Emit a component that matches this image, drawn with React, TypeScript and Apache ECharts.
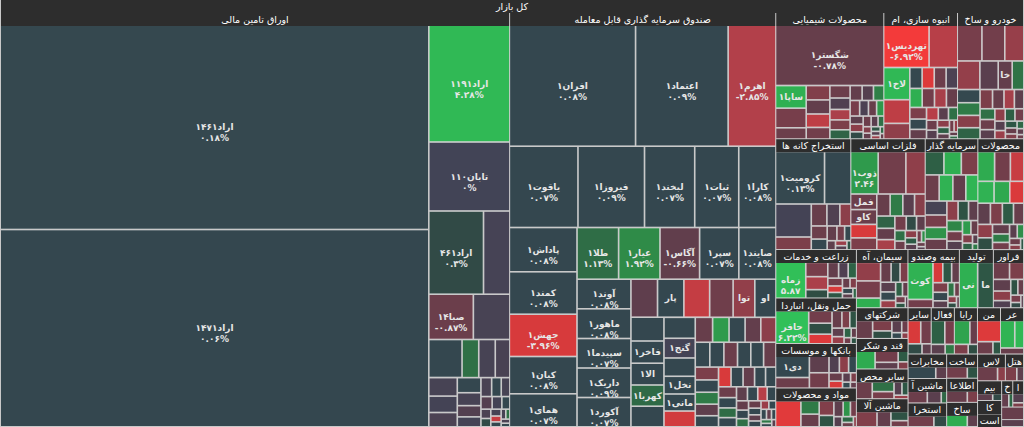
import React, { useEffect, useRef } from 'react';
import * as echarts from 'echarts';

type Leaf = [string, number, number];

const MARKET = 'کل بازار';

const BONDS: Leaf[] = [
  ['اراد۱۴۶۱', 86100, 0.18], ['اراد۱۴۷۱', 83100, 0.06], ['اراد۱۱۹۱', 9315, 4.28], ['تابان۱۱۰', 5508, 0],
  ['اراد۴۶۱', 4482, 0.3], ['', 2158, -0.08], ['صبا۱۴۰۴۱', 1980, -0.87], ['', 1620, -0.12], ['', 1248, 0.05],
  ['', 624, 1.2], ['', 622, -0.1], ['', 546, -0.15], ['', 520, -0.1], ['', 460, -0.05], ['', 400, -0.2],
  ['', 350, 0.04], ['', 300, -0.1], ['', 260, -0.35], ['', 230, -0.05], ['', 200, -0.15], ['', 180, 0.06],
  ['', 160, -0.1], ['', 140, -0.4], ['', 120, -0.05], ['', 100, 0.05], ['', 90, -0.2], ['', 80, 0.3],
  ['', 70, -0.1], ['', 60, -3.5], ['', 50, 0.05], ['', 45, -0.1], ['', 40, 1.2], ['', 35, -0.2], ['', 30, 0.04],
];

const ETF: Leaf[] = [
  ['افران۱', 14880, 0.08], ['اعتماد۱', 10920, 0.09], ['اهرم۱', 5640, -2.85], ['یاقوت۱', 5427, 0.07],
  ['فیروزا۱', 5265, 0.09], ['لبخند۱', 3969, 0.07], ['ثبات۱', 3483, 0.07], ['کارا۱', 2950, 0.08],
  ['پاداش۱', 2920, 0.08], ['کمند۱', 2790, 0.08], ['جهش۱', 2785, -3.96], ['کیان۱', 2450, 0.08],
  ['همای۱', 2180, 0.07], ['طلا۱', 2090, 1.13], ['عیار۱', 2080, 1.92], ['آگاس۱', 1990, -0.66],
  ['سپر۱', 1970, 0.07], ['صایند۱', 1870, 0.08], ['آوند۱', 1560, 0.08], ['ماهور۱', 1555, 0.08],
  ['سپیدما۱', 1550, 0.07], ['داریک۱', 1545, 0.09], ['آکورد۱', 1540, 0.07],
  ['', 990, -0.62], ['پارند۱', 980, 0.08], ['', 960, -3.4], ['', 875, -0.95], ['توان۱', 805, -1.7],
  ['اوصتا۱', 790, 0.07], ['', 760, 0.08], ['فاخر۱', 720, 0.07], ['الا۱', 700, 0.08], ['کهربا۱', 680, 1.05],
  ['', 660, 0.08], ['', 640, 0.07], ['گنج۱', 600, -0.05], ['', 560, 0.07], ['نخل۱', 540, 0.08], ['مانی۱', 520, 0.07],
  ['', 480, -3.8],
  ['', 420, -0.8], ['', 400, 2.5], ['', 390, 0.08], ['', 380, -0.7], ['', 370, -1.5], ['', 350, 0.07],
  ['', 340, 0.08], ['', 330, -0.9], ['', 320, 0.07], ['', 310, 0.08], ['', 300, -0.8], ['', 290, -1.2],
  ['', 280, 0.07], ['', 270, 1.5], ['', 260, -0.6], ['', 250, 0.08], ['', 240, -4.0], ['', 230, 0.07],
  ['', 220, -0.7], ['', 210, 0.08], ['', 200, 0.07], ['', 190, -0.9], ['', 180, 0.07], ['', 170, 1.1],
  ['', 160, 0.08], ['', 150, -0.6], ['', 140, 0.07], ['', 130, -3.0], ['', 120, 0.08], ['', 110, -0.7],
  ['', 100, 0.07], ['', 95, 1.2], ['', 90, -0.8], ['', 80, 0.08], ['', 75, -0.6],
  ['', 70, 0.07], ['', 65, -2.0], ['', 60, 0.08], ['', 55, 0.07], ['', 50, -0.7], ['', 45, 0.07],
  ['', 40, 1.4], ['', 35, 0.08], ['', 30, -0.5],
];

const CHEM: Leaf[] = [
  ['شگستر۱', 6200, -0.78], ['ساپا۱', 660, 3.6], ['', 570, -1.1], ['', 330, -0.9], ['', 320, -1.3],
  ['', 315, -0.7], ['', 300, -3.2], ['', 260, -1.0], ['', 240, -0.9], ['', 220, -0.3], ['', 200, -2.6],
  ['', 190, -1.2], ['', 180, 0.9], ['', 170, -0.7], ['', 160, -0.4], ['', 150, 1.6], ['', 140, -1.1],
  ['', 130, -0.2], ['', 120, -0.8], ['', 110, 2.4], ['', 100, -0.6], ['', 95, -1.5], ['', 90, 0.3],
  ['', 80, -0.9], ['', 70, -0.5], ['', 60, 1.2], ['', 50, -1.3], ['', 45, -0.7], ['', 40, 0.6],
  ['', 35, -0.4], ['', 30, -2.0], ['', 25, 1.0], ['', 20, -0.8],
];

const BUILD: Leaf[] = [
  ['تهردیس۱', 1780, -6.92], ['', 1120, -3.0], ['لاخ۱', 780, 4.2], ['', 575, -3.2], ['', 380, -1.6],
  ['', 240, 0.1], ['', 235, -4.5], ['', 230, -0.9], ['', 225, -0.2], ['', 220, 3.5], ['', 215, -1.0],
  ['', 210, -2.5], ['', 200, -0.8], ['', 180, -1.2], ['', 160, 0.1], ['', 150, -0.7], ['', 140, -3.0],
  ['', 120, -0.5], ['', 110, 1.2], ['', 100, -0.9], ['', 90, -0.4], ['', 80, -1.5], ['', 70, 0.8],
  ['', 60, -0.6], ['', 50, -1.0], ['', 40, -2.0], ['', 30, -0.7], ['', 25, 1.0],
];

const AUTO: Leaf[] = [
  ['', 880, -1.1], ['', 816, -1.0], ['', 680, -1.9], ['', 646, -1.8], ['', 528, -0.5], ['خاور۱', 400, -0.7],
  ['', 330, 1.3], ['', 300, 0.1], ['', 290, 1.5], ['', 280, -1.4], ['', 260, 0.9], ['', 240, -1.2],
  ['', 220, -0.8], ['', 200, -2.4], ['', 180, -0.6], ['', 160, 1.2], ['', 150, -0.9], ['', 140, -0.5],
  ['', 130, -1.6], ['', 120, 0.8], ['', 110, -1.0], ['', 100, -0.4], ['', 90, -2.0], ['', 80, 0.6],
  ['', 70, -0.8], ['', 60, -1.3], ['', 50, 1.0], ['', 40, -0.6], ['', 30, -0.9],
];

const MINING: Leaf[] = [
  ['کرومیت۱', 2700, 0.13], ['', 1460, 0.08], ['', 1250, -0.05], ['', 480, -1.2], ['', 360, -0.8],
  ['', 300, -0.3], ['', 260, -1.5], ['', 220, -0.9], ['', 180, 0.05], ['', 150, -0.7], ['', 120, -1.0],
  ['', 100, 0.1], ['', 80, -0.6], ['', 60, -2.0], ['', 50, -0.4], ['', 40, 0.5],
];

const METALS: Leaf[] = [
  ['ذوب۱', 1270, 2.46], ['', 1265, -1.0], ['', 900, -1.6], ['فملی۱', 440, -0.9], ['کاوه۱', 420, -0.85],
  ['', 380, -4.0], ['', 340, -1.2], ['', 320, -0.8], ['', 300, 1.5], ['', 280, -0.5], ['', 260, -1.4],
  ['', 240, 0.9], ['', 220, -0.7], ['', 200, -2.5], ['', 180, -1.0], ['', 160, 0.3], ['', 140, -0.6],
  ['', 120, 1.2], ['', 100, -0.9], ['', 90, -1.5], ['', 80, 0.7], ['', 70, -0.5], ['', 60, -1.0],
  ['', 50, 2.0], ['', 40, -0.8], ['', 30, -0.4],
];

const INVEST: Leaf[] = [
  ['', 520, 0.8], ['', 480, 3.5], ['', 460, -1.2], ['', 440, -0.9], ['', 420, 3.8], ['', 400, -0.7],
  ['', 380, 4.0], ['', 360, -0.1], ['', 320, -1.1], ['', 300, 2.2], ['', 280, -0.8], ['', 260, -1.5],
  ['', 240, 0.5], ['', 220, -0.6], ['', 200, 1.8], ['', 180, -1.0], ['', 160, -0.4], ['', 140, 2.5],
  ['', 120, -0.8], ['', 100, -1.3], ['', 80, 0.9], ['', 60, -0.5], ['', 40, 1.5],
];

const PRODUCTS: Leaf[] = [
  ['', 560, 3.2], ['', 520, -1.0], ['', 440, -3.5], ['', 400, 3.8], ['', 380, 3.0], ['', 340, -4.2],
  ['', 300, -0.6], ['', 280, -1.2], ['', 260, 0.7], ['', 240, -0.8], ['', 220, -1.6], ['', 200, 0.4],
  ['', 180, -0.7], ['', 160, 1.5], ['', 140, -1.0], ['', 120, -0.5], ['', 100, 2.0], ['', 80, -0.9],
  ['', 60, -1.4], ['', 40, 0.6],
];

const FARMING: Leaf[] = [
  ['زماهان۱', 1140, 5.87], ['', 330, -1.1], ['', 300, -2.6], ['', 200, 0.4], ['', 180, -0.7], ['', 160, -0.3],
  ['', 140, 0.9], ['', 120, -1.0], ['', 100, -4.0], ['', 90, 0.6], ['', 80, -0.8], ['', 70, -1.3],
  ['', 60, 0.2], ['', 50, -0.6], ['', 40, 1.0],
];

const TRANSPORT: Leaf[] = [
  ['حافرین۱', 1280, 6.22], ['', 340, -1.0], ['', 300, 0.4], ['', 260, -4.5], ['', 200, -0.8], ['', 160, -1.2],
  ['', 140, 0.5], ['', 120, -0.6], ['', 100, -2.0], ['', 80, 0.9], ['', 60, -0.7], ['', 50, -1.0], ['', 40, 0.5],
];

const BANKS: Leaf[] = [
  ['دی۱', 760, 0.08], ['', 380, -0.9], ['', 340, -0.6], ['', 320, -1.0], ['', 180, -0.3], ['', 160, -1.5],
  ['', 140, 0.07], ['', 120, -0.8], ['', 100, -4.0], ['', 80, -0.5], ['', 60, -1.2], ['', 50, 0.1], ['', 40, -0.7],
];

const MATERIALS: Leaf[] = [
  ['', 800, -5.0], ['', 300, 1.5], ['', 280, -0.8], ['', 260, -1.3], ['', 200, 0.5], ['', 180, -0.6],
  ['', 140, 2.2], ['', 120, -1.0], ['', 100, -0.4], ['', 80, 1.0], ['', 60, -0.9], ['', 40, -1.5],
];

const CEMENT: Leaf[] = [
  ['', 560, -1.7], ['', 520, -1.1], ['', 300, 3.5], ['', 260, -0.8], ['', 220, 0.3], ['', 200, -1.2],
  ['', 180, -0.5], ['', 160, 0.1], ['', 140, -2.0], ['', 120, 0.8], ['', 100, -0.7], ['', 80, -1.0],
  ['', 60, 0.6], ['', 40, -0.4],
];

const INSURANCE: Leaf[] = [
  ['کوثر۱', 1040, 3.8], ['', 240, -1.0], ['', 220, -4.0], ['', 200, 0.6], ['', 180, -0.7], ['', 160, -1.2],
  ['', 140, 0.2], ['', 120, -0.5], ['', 100, 1.3], ['', 80, -0.9], ['', 60, -1.5], ['', 50, 0.4], ['', 40, -0.6],
];

const PRODUCTION: Leaf[] = [['نیان۱', 770, 3.6], ['مادیرا۱', 665, 0.6]];
const PROCESSING: Leaf[] = [
  ['', 300, -0.9], ['', 260, -1.2], ['', 220, -0.6], ['', 180, -1.5], ['', 140, -0.3], ['', 120, 0.5],
  ['', 100, -0.8], ['', 80, -1.1], ['', 60, 0.3], ['', 40, -0.5],
];
const HOLDINGS: Leaf[] = [['', 300, -0.8], ['', 200, -1.2], ['', 150, 0.4], ['', 120, -0.5], ['', 80, -0.9], ['', 60, 0.2], ['', 40, -1.5]];
const SUGAR: Leaf[] = [['', 320, 3.2], ['', 240, -1.0], ['', 150, -0.6], ['', 100, 0.7], ['', 70, -1.3]];
const MINERALS: Leaf[] = [['', 260, -0.9], ['', 200, 1.2], ['', 150, -1.1], ['', 100, -0.4], ['', 80, 0.6], ['', 50, -2.0]];
const MACHINERY: Leaf[] = [['', 300, -1.3], ['', 200, -0.7], ['', 150, 0.5], ['', 100, -1.0]];
const OTHER: Leaf[] = [['', 300, -4.0], ['', 250, -1.0], ['', 150, 0.3], ['', 100, -0.6]];
const ACTIVE: Leaf[] = [['', 350, 0.8], ['', 250, -1.1], ['', 150, -0.5], ['', 100, 1.5]];
const COMPUTER: Leaf[] = [['', 400, 2.8], ['', 200, -0.8], ['', 150, -1.2], ['', 100, 0.4]];
const MINE2: Leaf[] = [['', 500, -4.5], ['', 200, -0.9], ['', 100, 0.6]];
const SUPPLY: Leaf[] = [['', 400, 3.9], ['', 250, 4.2], ['', 150, -0.8]];
const TELECOM: Leaf[] = [['', 500, 0.08], ['', 200, -0.6]];
const MACHINE2: Leaf[] = [['', 350, -0.9], ['', 250, -0.5], ['', 100, 1.0]];
const EXTRACT: Leaf[] = [['', 400, -1.0], ['', 200, 0.3]];
const CONSTRUCT: Leaf[] = [['', 300, -1.0], ['', 150, 0.5]];
const INFO: Leaf[] = [['', 300, -0.8], ['', 150, -1.2]];
const DEVICES: Leaf[] = [['', 300, 3.3], ['', 150, -0.6]];
const TIRES: Leaf[] = [['', 300, -0.9], ['', 120, -1.5]];
const HOTEL: Leaf[] = [['', 200, -1.2], ['', 120, -0.6]];
const INS2: Leaf[] = [['', 200, -0.6], ['', 120, 0.3]];
const KA: Leaf[] = [['', 150, -0.9], ['', 90, 0.4]];
const AST: Leaf[] = [['', 150, -1.1], ['', 80, 0.2]];
const KHAR: Leaf[] = [['', 140, -0.7], ['', 80, 1.0]];
const AMR: Leaf[] = [['', 140, -0.4], ['', 70, -1.2]];
const KHAD: Leaf[] = [['', 130, -0.8], ['', 70, 0.5]];
const MIM: Leaf[] = [['', 90, -0.5], ['', 40, 0.3]];

const SECTORS: [string, number, Leaf[]][] = [
  ['اوراق تامین مالی', 208900, BONDS],
  ['صندوق سرمایه گذاری قابل معامله', 109200, ETF],
  ['محصولات شیمیایی', 13530, CHEM],
  ['انبوه سازی، ام', 9230, BUILD],
  ['خودرو و ساخ', 8260, AUTO],
  ['استخراج کانه ها', 8240, MINING],
  ['فلزات اساسی', 8170, METALS],
  ['سرمایه گذار', 5777, INVEST],
  ['محصولات', 5014, PRODUCTS],
  ['زراعت و خدمات', 3871, FARMING],
  ['حمل ونقل، انباردا', 3634, TRANSPORT],
  ['بانکها و موسسات', 3555, BANKS],
  ['مواد و محصولات', 3081, MATERIALS],
  ['سیمان، آه', 2970, CEMENT],
  ['بیمه وصندو', 2965, INSURANCE],
  ['تولید', 1960, PRODUCTION],
  ['فراور', 1736, PROCESSING],
  ['شرکتهای', 1570, HOLDINGS],
  ['قند و شکر', 1565, SUGAR],
  ['سایر محص', 1519, MINERALS],
  ['ماشین آلا', 1421, MACHINERY],
  ['سایر', 1065, OTHER],
  ['فعال', 1062, ACTIVE],
  ['رایا', 1060, COMPUTER],
  ['من', 1058, MINE2],
  ['عرضه', 1055, SUPPLY],
  ['مخابرات', 936, TELECOM],
  ['ماشین آ', 935, MACHINE2],
  ['استخرا', 900, EXTRACT],
  ['ساخت', 741, CONSTRUCT],
  ['اطلاعا', 740, INFO],
  ['ساخت دس', 739, DEVICES],
  ['لاستیک', 738, TIRES],
  ['هتل', 480, HOTEL],
  ['بیم', 470, INS2],
  ['کا', 320, KA],
  ['است', 300, AST],
  ['خر', 290, KHAR],
  ['امر', 280, AMR],
  ['خد', 270, KHAD],
  ['م', 150, MIM],
];

const POS_STOPS: [number, string][] = [
  [0, '#34474f'], [0.2, '#35484f'], [0.35, '#2f4b42'], [0.6, '#2e5645'], [1.13, '#2f6d46'],
  [1.92, '#2f8b48'], [3, '#2fa84f'], [4.3, '#30b955'], [7, '#31c35a'],
];
const NEG_STOPS: [number, string][] = [
  [0, '#424456'], [0.4, '#553f4f'], [0.8, '#673e4b'], [1.5, '#8c3f4a'], [2.85, '#b2404a'],
  [4, '#d83a3b'], [7, '#f43a3a'],
];

function rgb(h: string) {
  return [1, 3, 5].map((i) => parseInt(h.slice(i, i + 2), 16));
}
function colorOf(p: number) {
  const stops = p > 0 ? POS_STOPS : NEG_STOPS;
  const a = Math.abs(p);
  for (let i = 1; i < stops.length; i++) {
    if (a <= stops[i][0]) {
      const [a0, c0] = stops[i - 1];
      const [a1, c1] = stops[i];
      const t = (a - a0) / (a1 - a0);
      const x = rgb(c0), y = rgb(c1);
      return 'rgb(' + x.map((v, k) => Math.round(v + (y[k] - v) * t)).join(',') + ')';
    }
  }
  return stops[stops.length - 1][1];
}

const FA = '۰۱۲۳۴۵۶۷۸۹';
const toFa = (s: string) => s.replace(/[0-9]/g, (d) => FA[+d]);
const fmtPct = (v: number) => toFa(String(Number(v.toFixed(2)))) + '%';

const FONT = 'Tahoma, "DejaVu Sans", sans-serif';
const LINE = '#c9c9c9';
const HEAD_BG = '#2d2d2d';
const TWO_LINE_MIN = 1050;

export default function App() {
  const ref = useRef<HTMLDivElement>(null);
  useEffect(() => {
    if (!ref.current) return;
    const chart = echarts.init(ref.current, undefined, { renderer: 'svg' });
    const headerLabel = {
      show: true,
      height: 13,
      color: '#ffffff',
      fontSize: 9.5,
      fontFamily: FONT,
      backgroundColor: HEAD_BG,
      padding: 0,
      position: 'inside',
      align: 'center',
      verticalAlign: 'middle',
      overflow: 'truncate',
      ellipsis: '',
    };
    const sectors = SECTORS.map(([name, size, leaves]) => ({
      name,
      value: size,
      itemStyle: { color: colorOf(leaves[0][2]) },
      children: leaves.map(([n, v, p]) => ({
        name: n,
        value: v,
        pct: p,
        two: v >= TWO_LINE_MIN,
        itemStyle: { color: colorOf(p) },
        label: { show: n !== '', offset: [0, v >= TWO_LINE_MIN ? 5.5 : 0] },
      })),
    }));
    chart.setOption({
      animation: false,
      textStyle: { fontFamily: FONT },
      series: [
        {
          type: 'treemap',
          left: 0,
          top: 0,
          right: 0,
          bottom: 0,
          roam: false,
          nodeClick: false,
          silent: true,
          breadcrumb: { show: false },
          visibleMin: 1,
          label: {
            show: true,
            position: 'inside',
            align: 'center',
            verticalAlign: 'middle',
            color: '#e6e6e6',
            fontSize: 9,
            fontWeight: 'bold',
            lineHeight: 11,
            fontFamily: FONT,
            padding: [1, 0, 1, 0],
            overflow: 'truncate',
            ellipsis: '',
            formatter: (p: any) =>
              p.data && p.data.two ? p.name + '\n' + fmtPct(p.data.pct) : p.name,
          },
          levels: [
            { itemStyle: { borderWidth: 0, gapWidth: 0, borderColor: LINE }, upperLabel: { show: false } },
            { itemStyle: { borderWidth: 1, gapWidth: 1, borderColor: LINE }, upperLabel: headerLabel },
            { itemStyle: { borderWidth: 0, gapWidth: 1.5, borderColor: LINE }, upperLabel: headerLabel },
            { itemStyle: { borderWidth: 0, gapWidth: 0 } },
          ],
          data: [{ name: MARKET, children: sectors }],
        },
      ],
    });
    return () => chart.dispose();
  }, []);
  return (
    <div
      ref={ref}
      style={{ position: 'fixed', left: 0, top: 0, width: 1024, height: 427, background: '#ffffff' }}
    />
  );
}
